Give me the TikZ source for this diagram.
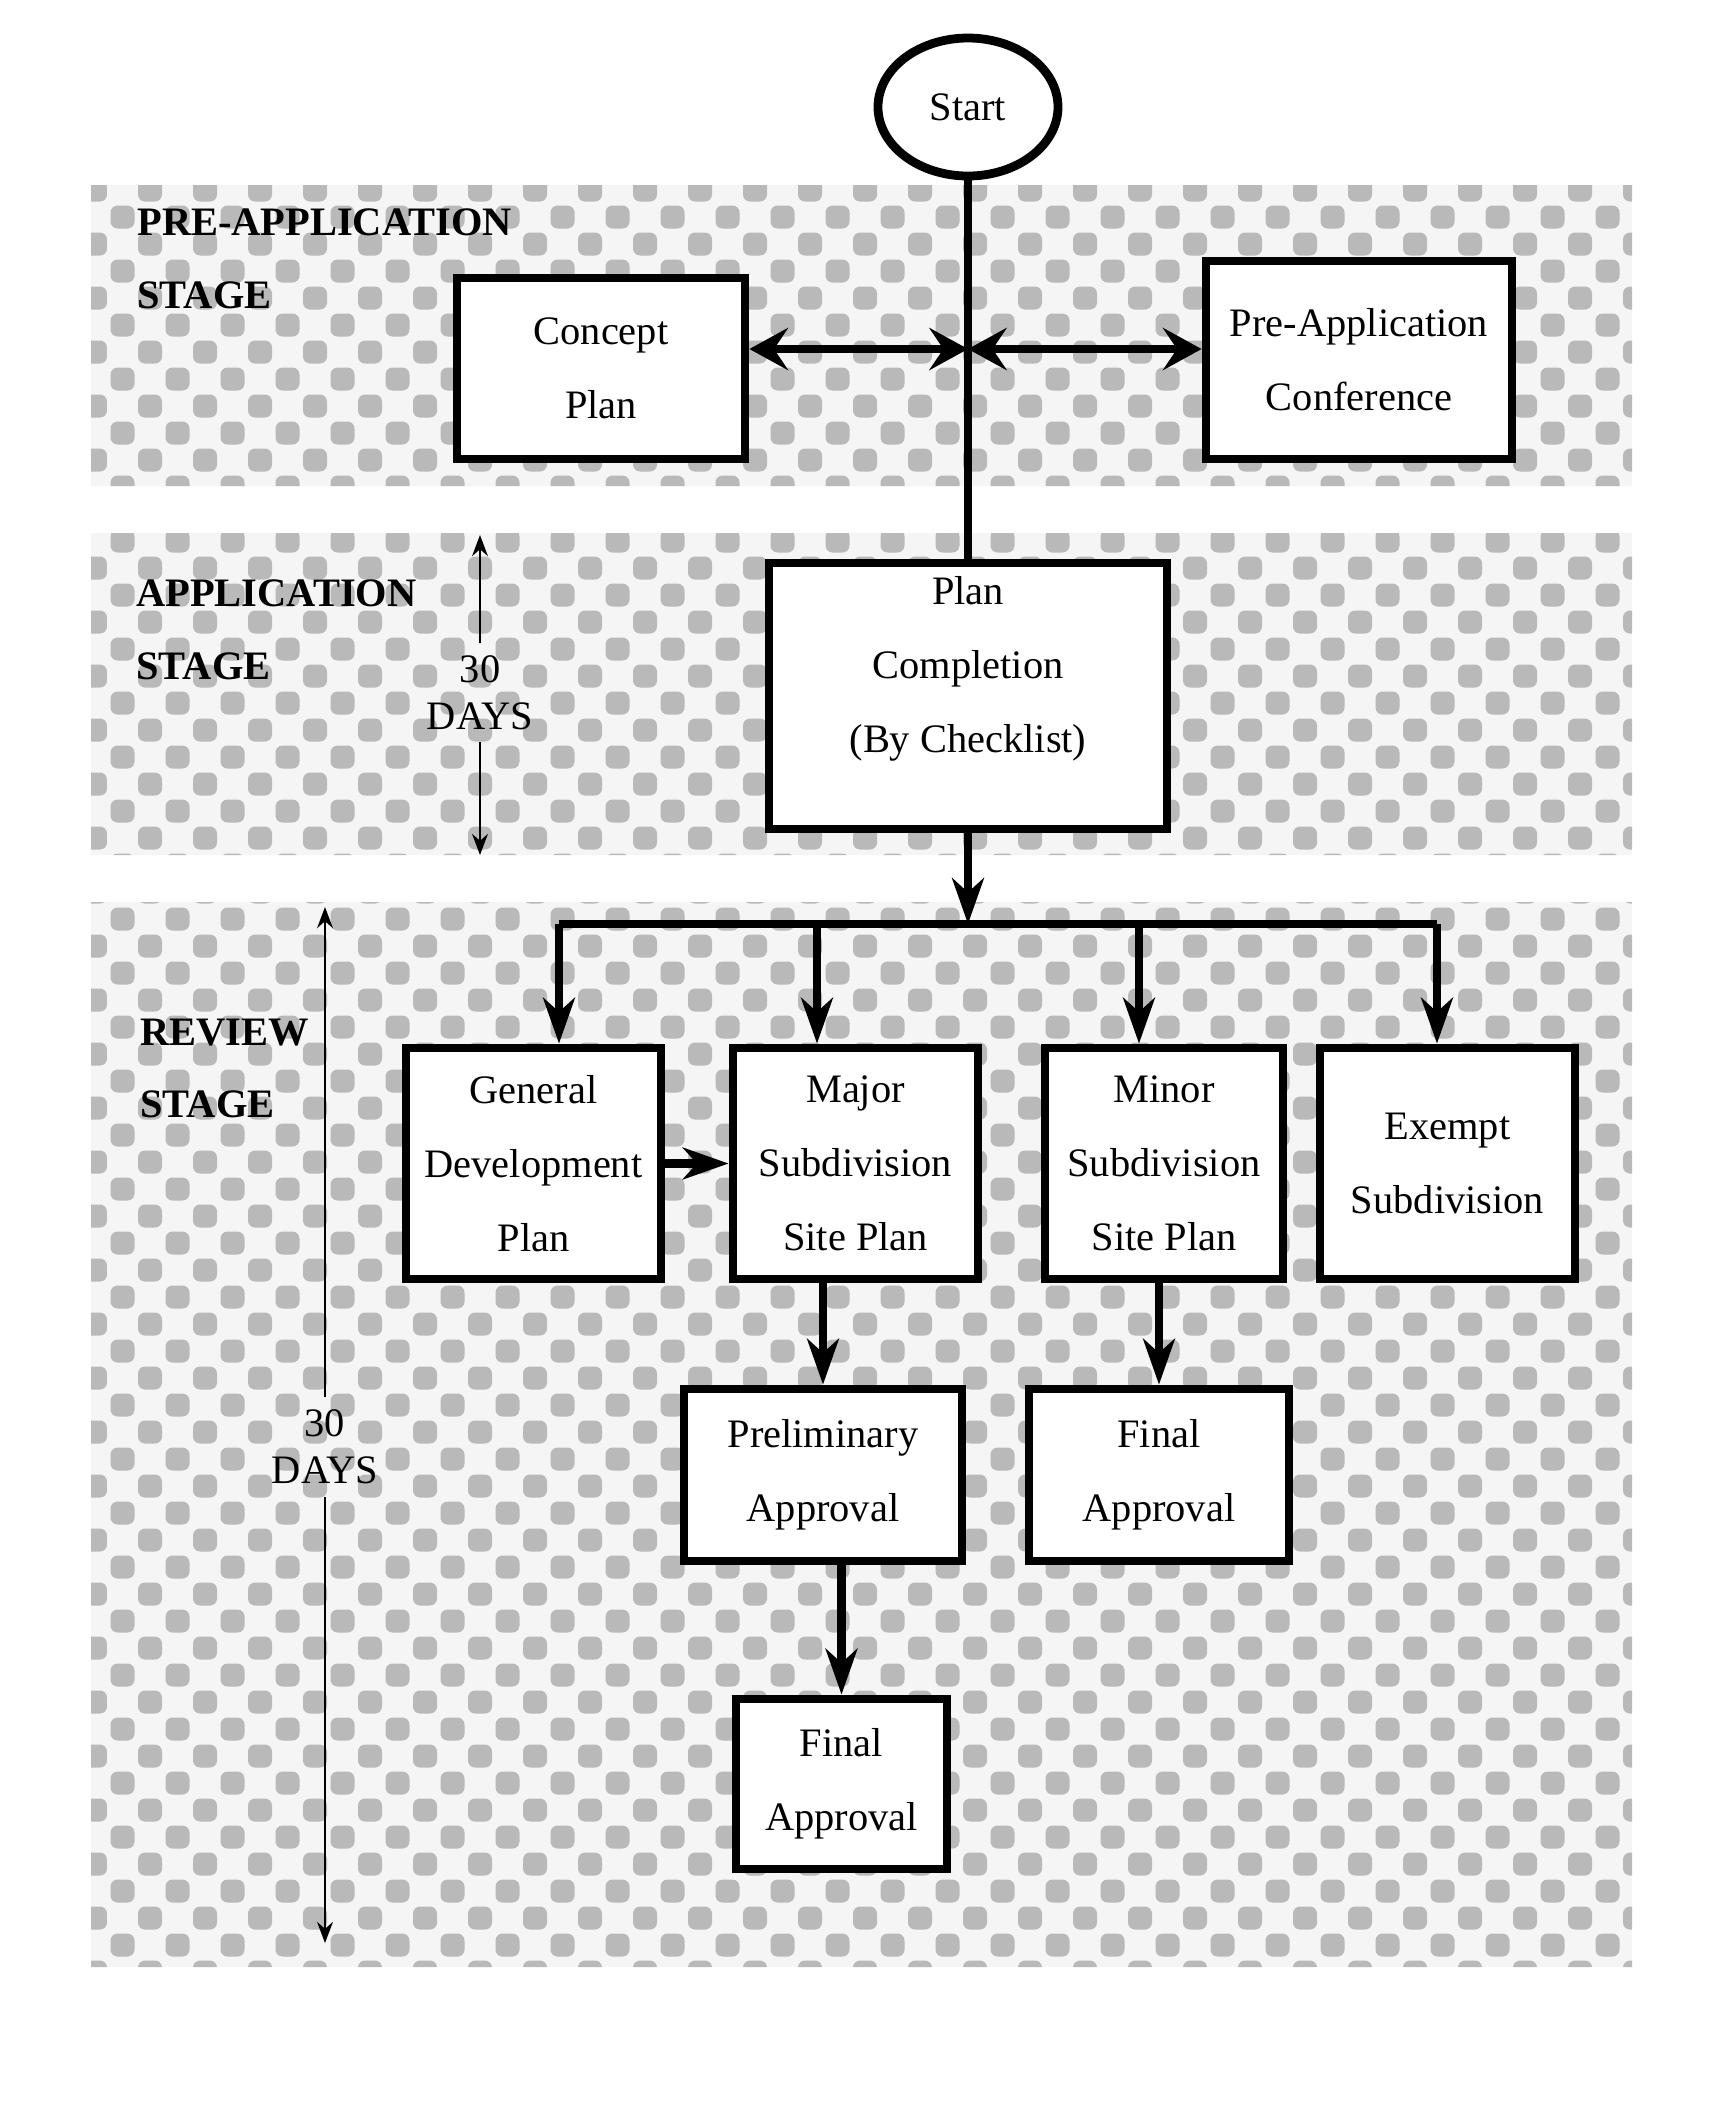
\documentclass[tikz,border=0pt]{standalone}
\usepackage{fontspec}
\setmainfont{Liberation Serif}
\usetikzlibrary{arrows.meta, positioning, shapes.geometric, calc}

\begin{document}
\begin{tikzpicture}[>=Stealth, font=\fontsize{11.5}{21}\selectfont,
    box/.style={draw, line width=2.5pt, fill=white, align=center, inner sep=2pt},
    flow/.style={line width=2.3pt, -{Stealth[length=13pt, width=9pt, inset=4pt]}},
    span/.style={line width=2.3pt, {Stealth[length=11pt, width=12pt, inset=4pt]}-{Stealth[length=11pt, width=12pt, inset=4pt]}},
    days/.style={line width=0.6pt, -{Stealth[length=6pt, width=4.5pt]}},
    stage/.style={font=\fontsize{11.5}{20.7}\selectfont\bfseries, align=left, anchor=west}]

\useasboundingbox (0,0) rectangle (17.15,-21.06);
\fill[white] (0,0) rectangle (17.15,-21.06);

% Stage bands (checkered screen)
\begin{scope}
\clip (0.91,-1.85) rectangle (16.32,-4.86)
      (0.91,-5.33) rectangle (16.32,-8.55)
      (0.91,-9.02) rectangle (16.32,-19.67);
\fill[gray!8] (0.91,-1.85) rectangle (16.32,-19.67);
\foreach \x in {0.95,1.50,...,16.6}
  \foreach \y in {-1.90,-2.44,...,-19.9} {
    \fill[gray!55, rounded corners=0.07cm] (\x-0.12,\y-0.115) rectangle (\x+0.12,\y+0.115);
    \fill[gray!55, rounded corners=0.07cm] (\x+0.155,\y-0.385) rectangle (\x+0.395,\y-0.155);
  }
\end{scope}

% Stage labels
\node[stage] (prelabel) at (1.25,-2.585) {PRE-APPLICATION\\STAGE};
\node[stage] (applabel) at (1.24,-6.295) {APPLICATION\\STAGE};
\node[stage] (revlabel) at (1.28,-10.685) {REVIEW\\STAGE};

% Start and pre-application
\node[ellipse, draw, line width=2.5pt, fill=white, minimum width=1.8cm, minimum height=1.38cm] (start) at (9.68,-1.07) {Start};
\node[box, minimum width=2.88cm, minimum height=1.81cm] (concept) at (6.01,-3.685) {Concept\\Plan};
\node[box, minimum width=3.06cm, minimum height=1.98cm] (preconf) at (13.59,-3.60) {Pre-Application\\Conference};

% Application
\node[box, minimum width=3.98cm, minimum height=2.66cm] (check) at (9.68,-6.96) {Plan\\Completion\\(By Checklist)\\[-3pt]\mbox{}};

% Review tracks
\node[box, minimum width=2.55cm, minimum height=2.31cm] (gdp) at (5.335,-11.635) {General\\Development\\Plan};
\node[box, minimum width=2.45cm, minimum height=2.31cm] (major) at (8.555,-11.635) {Major\\Subdivision\\Site Plan};
\node[box, minimum width=2.38cm, minimum height=2.31cm] (minor) at (11.64,-11.635) {Minor\\Subdivision\\Site Plan};
\node[box, minimum width=2.55cm, minimum height=2.31cm] (exempt) at (14.475,-11.635) {Exempt\\Subdivision};
\node[box, minimum width=2.78cm, minimum height=1.72cm] (prelim) at (8.23,-14.75) {Preliminary\\Approval};
\node[box, minimum width=2.60cm, minimum height=1.72cm] (minfinal) at (11.59,-14.75) {Final\\Approval};
\node[box, minimum width=2.11cm, minimum height=1.70cm] (majfinal) at (8.415,-17.84) {Final\\Approval};

% Trunk and side arrows
\coordinate (jn) at (9.68,-3.49);
\draw[line width=2.1pt] (start.south) -- (check.north);
\draw[span] (concept.east |- jn) -- (jn);
\draw[span] (jn) -- (preconf.west |- jn);

% Fan out
\coordinate (bus) at (9.68,-9.24);
\coordinate (b1) at (5.59,-9.24);
\coordinate (b2) at (8.17,-9.24);
\coordinate (b3) at (11.39,-9.24);
\coordinate (b4) at (14.37,-9.24);
\draw[flow] (check.south) -- (bus);
\draw[line width=2.3pt] (b1) -- (b4);
\foreach \t/\b in {b1/gdp, b2/major, b3/minor, b4/exempt}
    \draw[flow] (\t) -- (\t |- \b.north);

\draw[flow] (gdp.east) -- (major.west);
\draw[flow] (prelim.north |- major.south) -- (prelim.north);
\draw[flow] (minfinal.north |- minor.south) -- (minfinal.north);
\draw[flow] (majfinal.north |- prelim.south) -- (majfinal.north);

% Time spans
\node[font=\fontsize{11.5}{13.5}\selectfont, align=center] (appdays) at (4.80,-6.925) {30\\DAYS};
\coordinate (apptop) at (4.80,-5.35);
\coordinate (appbot) at (4.80,-8.55);
\draw[days] (appdays.north) -- (apptop);
\draw[days] (appdays.south) -- (appbot);

\node[font=\fontsize{11.5}{13.5}\selectfont, align=center] (revdays) at (3.25,-14.47) {30\\DAYS};
\coordinate (revtop) at (3.25,-9.07);
\coordinate (revbot) at (3.25,-19.43);
\draw[days] (revdays.north) -- (revtop);
\draw[days] (revdays.south) -- (revbot);

\end{tikzpicture}
\end{document}
